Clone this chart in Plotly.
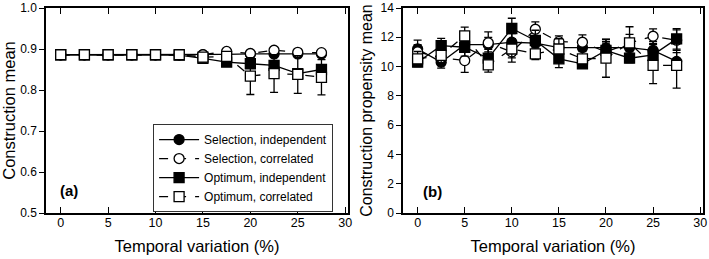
import plotly.graph_objects as go
from plotly.subplots import make_subplots

x_vals = [0, 2.5, 5, 7.5, 10, 12.5, 15, 17.5, 20, 22.5, 25, 27.5]
x_ticks = [0, 5, 10, 15, 20, 25, 30]
y_ticks_a = [0.5, 0.6, 0.7, 0.8, 0.9, 1.0]
y_ticks_b = [0, 2, 4, 6, 8, 10, 12, 14]

# Panel (a): Construction mean
sel_ind_a = [0.886, 0.886, 0.886, 0.886, 0.886, 0.886, 0.886, 0.887, 0.888, 0.888, 0.888, 0.888]
sel_corr_a = [0.886, 0.886, 0.886, 0.886, 0.886, 0.886, 0.886, 0.894, 0.889, 0.897, 0.892, 0.891]
opt_ind_a = [0.886, 0.886, 0.886, 0.886, 0.886, 0.885, 0.877, 0.868, 0.864, 0.860, 0.840, 0.850]
opt_corr_a = [0.886, 0.886, 0.886, 0.886, 0.886, 0.886, 0.880, 0.882, 0.834, 0.840, 0.838, 0.831]
err_sel_ind_a = [0.002, 0.002, 0.002, 0.002, 0.002, 0.002, 0.003, 0.004, 0.005, 0.005, 0.005, 0.005]
err_sel_corr_a = [0.002, 0.002, 0.002, 0.002, 0.002, 0.002, 0.003, 0.004, 0.005, 0.005, 0.005, 0.005]
err_opt_ind_a = [0.002, 0.002, 0.002, 0.002, 0.002, 0.003, 0.005, 0.008, 0.010, 0.010, 0.010, 0.010]
err_opt_corr_a = [0.002, 0.002, 0.002, 0.002, 0.002, 0.003, 0.005, 0.010, 0.045, 0.046, 0.046, 0.043]

# Panel (b): Construction propensity mean
sel_ind_b = [11.2, 10.3, 11.5, 11.5, 11.66, 11.6, 11.3, 11.3, 11.25, 11.3, 11.1, 10.35]
sel_corr_b = [11.0, 10.6, 10.41, 11.62, 11.0, 12.55, 11.7, 11.66, 11.0, 11.6, 12.07, 11.8]
opt_ind_b = [10.3, 11.43, 11.32, 10.57, 12.6, 11.78, 10.53, 10.19, 11.1, 10.57, 10.8, 11.89]
opt_corr_b = [10.53, 10.76, 12.1, 10.12, 11.2, 10.87, 11.2, 10.53, 10.57, 11.62, 10.08, 10.08]
err_sel_ind_b = [0.6, 0.4, 0.5, 0.5, 0.6, 0.5, 0.5, 0.5, 0.6, 0.6, 0.6, 0.6]
err_sel_corr_b = [0.5, 0.5, 0.8, 0.75, 0.7, 0.5, 0.4, 0.5, 0.6, 0.6, 0.5, 0.7]
err_opt_ind_b = [0.3, 0.5, 0.6, 0.6, 0.7, 0.7, 0.6, 0.3, 0.6, 0.3, 0.7, 0.7]
err_opt_corr_b = [0.5, 0.6, 0.6, 0.5, 0.6, 0.4, 0.7, 0.5, 1.3, 1.1, 1.25, 1.55]

series_names = ["Selection, independent", "Selection, correlated",
                "Optimum, independent", "Optimum, correlated"]

styles = [
    dict(symbol="circle", fill="black", dash="solid"),
    dict(symbol="circle", fill="white", dash="dash"),
    dict(symbol="square", fill="black", dash="solid"),
    dict(symbol="square", fill="white", dash="dash"),
]

fig = make_subplots(rows=1, cols=2, horizontal_spacing=0.0)

data_a = [(sel_ind_a, err_sel_ind_a), (sel_corr_a, err_sel_corr_a),
          (opt_ind_a, err_opt_ind_a), (opt_corr_a, err_opt_corr_a)]
data_b = [(sel_ind_b, err_sel_ind_b), (sel_corr_b, err_sel_corr_b),
          (opt_ind_b, err_opt_ind_b), (opt_corr_b, err_opt_corr_b)]

for col, data in ((1, data_a), (2, data_b)):
    for i, ((yv, ev), name, st) in enumerate(zip(data, series_names, styles)):
        fig.add_trace(go.Scatter(
            x=x_vals, y=yv, name=name, mode="lines+markers",
            showlegend=(col == 1),
            line=dict(color="black", width=1.3, dash=st["dash"]),
            marker=dict(symbol=st["symbol"], size=10, color=st["fill"],
                        line=dict(color="black", width=1.3)),
            error_y=dict(type="data", array=ev, visible=True,
                         color="black", thickness=1.3, width=4),
        ), row=1, col=col)

font_family = "Liberation Sans, Arial, sans-serif"

xaxis_common = dict(range=[-1.55, 30.3], tickmode="array", tickvals=x_ticks,
                    ticks="inside", ticklen=6, tickwidth=1.3, tickcolor="black",
                    showline=True, linecolor="black", linewidth=1.5,
                    mirror="ticks", showgrid=False, zeroline=False,
                    automargin=False, ticklabelstandoff=-3,
                    tickfont=dict(size=12.5, color="black", family=font_family),
                    title=dict(text="Temporal variation (%)",
                               font=dict(size=16.5, color="black", family=font_family),
                               standoff=12))
yaxis_common = dict(ticks="outside", ticklen=5, tickwidth=1.3, tickcolor="black",
                    showline=True, linecolor="black", linewidth=1.5,
                    mirror=True, showgrid=False, zeroline=False,
                    automargin=False, tickmode="array",
                    tickfont=dict(size=12, color="black", family=font_family))

fig.update_xaxes(**xaxis_common)
fig.update_xaxes(domain=[0, 0.4597], row=1, col=1)
fig.update_xaxes(domain=[0.5434, 1.0], row=1, col=2)
fig.update_yaxes(**yaxis_common)
fig.update_yaxes(range=[0.5, 1.0], tickvals=y_ticks_a, tickformat=".1f",
                 title=dict(text="Construction mean", standoff=4,
                            font=dict(size=16.5, color="black", family=font_family)),
                 row=1, col=1)
fig.update_yaxes(range=[0, 14], tickvals=y_ticks_b,
                 title=dict(text="Construction propensity mean", standoff=4,
                            font=dict(size=16, color="black", family=font_family)),
                 row=1, col=2)

# right-hand inside ticks
right_common = dict(side="right", ticks="inside", ticklen=5, tickwidth=1.3,
                    tickcolor="black", showticklabels=False, showline=False,
                    showgrid=False, zeroline=False, automargin=False,
                    tickmode="array")
fig.update_layout(
    yaxis3=dict(overlaying="y", anchor="x", range=[0.5, 1.0],
                tickvals=y_ticks_a, **right_common),
    yaxis4=dict(overlaying="y2", anchor="x2", range=[0, 14],
                tickvals=y_ticks_b, **right_common),
)

fig.add_annotation(text="<b>(a)</b>", xref="x domain", yref="y domain",
                   x=0.075, y=0.11, xanchor="center", yanchor="middle",
                   showarrow=False,
                   font=dict(size=15, color="black", family=font_family))
fig.add_annotation(text="<b>(b)</b>", xref="x2 domain", yref="y2 domain",
                   x=0.097, y=0.105, xanchor="center", yanchor="middle",
                   showarrow=False,
                   font=dict(size=15, color="black", family=font_family))

fig.update_layout(
    width=709, height=259,
    margin=dict(l=46, r=6, t=8, b=46, autoexpand=False),
    paper_bgcolor="white", plot_bgcolor="white",
    font=dict(family=font_family, color="black"),
    legend=dict(x=0.163, y=0.434, xanchor="left", yanchor="top",
                bordercolor="#333333", borderwidth=1, bgcolor="white",
                font=dict(size=12, color="black", family=font_family),
                tracegroupgap=0, itemwidth=40,
                traceorder="normal"),
)

fig.write_html("out.html", config={"displayModeBar": False},
               post_script="document.body.style.margin='0px';document.body.style.overflow='hidden';")
